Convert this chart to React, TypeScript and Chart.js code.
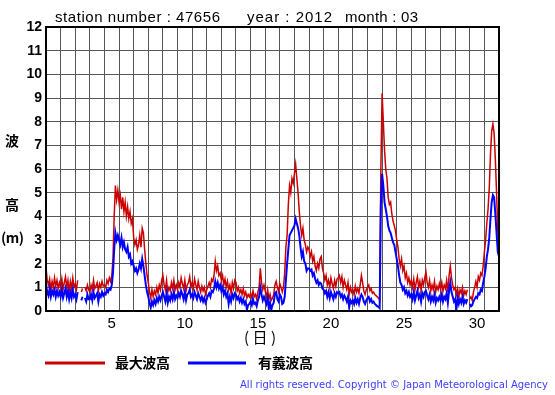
import React, { useEffect, useRef } from "react";
import { Chart, registerables } from "chart.js";

Chart.register(...registerables);

// hours between successive readings (values start 1 March 00:00)
const stepHours = 2;

// day tick labels on the x axis (each label is centred on its day column)
const dayTickLabels = ["5", "10", "15", "20", "25", "30"];

// wave height axis range (m)
const yMin = 0;
const yMax = 12;

const titleStation = "station number : 47656";
const titleYear = "year : 2012";
const titleMonth = "month : 03";
const seriesMaxName = "最大波高";
const seriesSigName = "有義波高";
const copyright = "All rights reserved. Copyright © Japan Meteorological Agency";

// 最大波高 (maximum wave height), one row per day, 12 readings per day
const maxWave: (number | null)[] = [
  1.85, 1.3, 1.1, 1.35, 0.9, 1.25, 1.0, 1.4, 1.05, 1.3, 0.95, 1.2,
  1.0, 1.35, 0.9, 1.2, 1.45, 1.0, 1.3, 0.85, 1.25, 0.95, 1.4, 1.0,
  1.15, 0.9, 1.3, null, null, 0.8, 0.95, null, 1.0, 0.85, 1.1, 0.9,
  0.8, 1.1, 0.9, 1.3, 0.95, 1.05, 1.2, 0.85, 1.15, 1.0, 1.25, 1.05,
  1.1, 1.0, 1.3, 1.15, 1.4, 1.25, 1.5, 2.2, 4.0, 5.3, 4.7, 5.1,
  4.6, 4.9, 4.3, 4.8, 4.2, 4.6, 4.0, 4.4, 3.9, 4.2, 3.7, 3.9,
  3.1, 2.8, 3.0, 2.6, 2.8, 3.2, 2.7, 3.5, 3.3, 2.6, 2.0, 1.5,
  1.2, 0.8, 0.55, 0.9, 0.6, 0.85, 0.7, 1.0, 0.75, 1.1, 0.9, 1.3,
  1.5, 1.1, 0.9, 1.3, 0.8, 1.0, 0.85, 1.2, 0.95, 1.3, 0.9, 1.1,
  0.9, 1.2, 1.0, 1.4, 1.15, 0.95, 1.3, 0.85, 1.1, 1.2, 1.45, 1.0,
  1.2, 0.95, 1.35, 1.1, 0.9, 1.25, 1.0, 0.8, 1.05, 0.85, 1.0, 0.7,
  0.9, 1.05, 1.2, 1.0, 1.35, 1.25, 1.5, 2.1, 1.7, 1.9, 1.5, 1.6,
  1.3, 1.5, 1.1, 1.35, 1.0, 1.25, 0.9, 1.1, 0.75, 1.2, 0.95, 1.3,
  1.2, 0.85, 1.0, 0.75, 0.9, 0.7, 0.95, 0.65, 0.8, 0.55, 0.7, 0.6,
  0.75, 0.55, 0.85, 0.6, 0.7, 0.5, 0.8, 1.0, 1.8, 1.2, 0.9, 1.1,
  0.85, 0.6, 0.9, 0.5, 0.7, 0.45, 0.55, 0.7, 1.1, 1.25, 1.0, 0.8,
  1.15, 1.0, 0.8, 1.0, 1.6, 2.7, 3.2, 4.5, 5.3, 5.0, 5.6, 5.4,
  5.8, 6.2, 5.6, 5.0, 4.2, 3.6, 3.2, 3.5, 3.0, 2.8, 2.5, 2.7,
  2.6, 2.3, 2.5, 2.1, 2.3, 1.9, 1.7, 2.0, 1.8, 2.2, 2.3, 1.8,
  1.6, 1.3, 1.5, 1.1, 1.3, 1.0, 1.4, 1.15, 0.95, 1.3, 1.05, 1.35,
  1.4, 1.5, 1.2, 1.45, 1.0, 1.3, 1.1, 0.9, 1.2, 0.7, 1.0, 0.8,
  0.9, 0.7, 1.05, 0.8, 0.95, 0.75, 1.1, 1.5, 1.2, 0.85, 0.7, 0.9,
  1.0, 1.1, 0.85, 0.95, 0.75, 0.8, 0.7, 0.65, 0.6, 0.55, 0.45, 6.0,
  9.2, 8.0, 6.8, 6.0, 5.6, 4.8, 4.5, 4.6, 4.1, 3.8, 3.6, 3.4,
  3.0, 2.7, 2.2, 1.9, 2.2, 1.7, 1.9, 1.4, 1.6, 1.2, 1.4, 1.1,
  1.3, 1.0, 1.35, 0.9, 1.2, 1.45, 1.0, 1.25, 0.85, 1.3, 1.1, 1.4,
  1.65, 1.2, 1.0, 1.3, 0.85, 1.1, 0.9, 1.25, 0.8, 1.05, 0.9, 1.15,
  0.9, 1.2, 0.85, 1.1, 0.95, 1.3, 0.8, 1.5, 1.9, 1.4, 1.1, 0.9,
  1.0, 0.7, 0.95, 0.6, 0.9, 0.75, 1.0, 0.65, 0.85, 0.7, 0.9, null,
  0.5, 0.6, 0.45, 0.8, 1.0, 1.25, 1.0, 1.45, 1.3, 1.6, 1.5, 1.9,
  2.5, 3.0, 3.7, 4.3, 5.2, 6.6, 7.6, 7.9, 7.5, 6.4, 5.0, 3.4,
  2.5,
];

// 有義波高 (significant wave height), one row per day, 12 readings per day
const sigWave: (number | null)[] = [
  1.15, 0.8, 0.65, 0.95, 0.6, 0.85, 0.7, 0.9, 0.6, 0.85, 0.65, 0.8,
  0.6, 0.9, 0.55, 0.75, 0.95, 0.6, 0.85, 0.5, 0.8, 0.55, 0.9, 0.6,
  0.7, 0.5, 0.8, null, null, 0.45, 0.6, null, 0.55, 0.4, 0.7, 0.5,
  0.5, 0.7, 0.45, 0.8, 0.55, 0.65, 0.75, 0.4, 0.7, 0.6, 0.8, 0.65,
  0.75, 0.7, 0.9, 0.8, 0.95, 0.9, 1.1, 1.6, 2.6, 3.3, 3.0, 3.2,
  3.0, 2.8, 3.1, 2.7, 2.9, 2.6, 2.5, 2.7, 2.3, 2.4, 2.0, 2.1,
  1.9, 1.7, 1.8, 1.6, 1.75, 2.0, 1.8, 2.2, 1.9, 1.5, 1.1, 0.8,
  0.6, 0.35, 0.15, 0.4, 0.25, 0.45, 0.3, 0.55, 0.4, 0.6, 0.45, 0.65,
  0.8, 0.6, 0.4, 0.75, 0.35, 0.6, 0.45, 0.7, 0.5, 0.8, 0.5, 0.65,
  0.55, 0.75, 0.6, 0.85, 0.7, 0.5, 0.8, 0.45, 0.7, 0.75, 0.9, 0.6,
  0.7, 0.55, 0.8, 0.65, 0.5, 0.75, 0.6, 0.45, 0.6, 0.4, 0.55, 0.35,
  0.5, 0.65, 0.75, 0.6, 0.85, 0.8, 0.95, 1.25, 1.0, 1.2, 0.95, 1.1,
  0.85, 1.0, 0.7, 0.85, 0.6, 0.75, 0.3, 0.6, 0.4, 0.7, 0.55, 0.75,
  0.7, 0.5, 0.6, 0.4, 0.55, 0.35, 0.5, 0.3, 0.4, 0.05, 0.25, 0.3,
  0.4, 0.25, 0.5, 0.3, 0.35, 0.2, 0.45, 0.6, 1.0, 0.7, 0.45, 0.6,
  0.45, 0.3, 0.55, 0.1, 0.35, 0.05, 0.25, 0.35, 0.75, 0.8, 0.5, 0.4,
  0.7, 0.6, 0.3, 0.35, 0.6, 1.3, 2.0, 2.6, 3.2, 3.3, 3.4, 3.5,
  3.6, 3.9, 3.7, 3.5, 3.2, 2.7, 2.3, 2.5, 2.1, 2.0, 1.7, 1.8,
  1.8, 1.7, 1.75, 1.5, 1.6, 1.35, 1.2, 1.3, 1.1, 1.2, 1.15, 0.95,
  0.9, 0.75, 0.85, 0.6, 0.8, 0.55, 0.8, 0.65, 0.5, 0.75, 0.6, 0.8,
  0.75, 0.8, 0.6, 0.7, 0.5, 0.65, 0.55, 0.4, 0.6, 0.15, 0.45, 0.35,
  0.45, 0.3, 0.55, 0.35, 0.5, 0.3, 0.55, 0.7, 0.6, 0.4, 0.3, 0.45,
  0.55, 0.6, 0.4, 0.5, 0.35, 0.4, 0.3, 0.25, 0.2, 0.18, 0.12, 4.5,
  5.8, 5.3, 4.6, 4.3, 4.0, 3.6, 3.4, 3.3, 3.1, 2.9, 2.8, 2.5,
  2.2, 1.9, 1.5, 1.2, 1.1, 0.9, 1.0, 0.75, 0.85, 0.65, 0.8, 0.6,
  0.7, 0.5, 0.8, 0.45, 0.65, 0.85, 0.55, 0.7, 0.4, 0.75, 0.6, 0.8,
  0.85, 0.65, 0.5, 0.7, 0.4, 0.6, 0.45, 0.7, 0.35, 0.55, 0.45, 0.6,
  0.45, 0.7, 0.4, 0.6, 0.5, 0.75, 0.35, 0.85, 1.2, 0.8, 0.6, 0.4,
  0.5, 0.05, 0.55, 0.3, 0.5, 0.35, 0.6, 0.3, 0.45, 0.35, 0.5, null,
  0.3, 0.2, 0.25, 0.4, 0.5, 0.6, 0.55, 0.75, 0.7, 0.9, 0.85, 1.2,
  1.45, 1.8, 2.3, 2.6, 3.1, 3.9, 4.6, 4.9, 4.8, 4.1, 3.3, 2.5,
  2.3,
];

const RED = "#cc0000";
const BLUE = "#0000ff";
const GRID = "#555555";

function fitText(ctx: CanvasRenderingContext2D, text: string, x: number, y: number, width: number) {
  (ctx as any).letterSpacing = "0px";
  const w = ctx.measureText(text).width;
  const ls = (width - w) / Math.max(1, text.length - 1);
  (ctx as any).letterSpacing = ls + "px";
  ctx.fillText(text, x, y);
  (ctx as any).letterSpacing = "0px";
}

export default function App() {
  const ref = useRef<HTMLCanvasElement>(null);

  useEffect(() => {
    document.body.style.margin = "0";
    const canvas = ref.current!;
    const toPts = (arr: (number | null)[]) => arr.map((v, i) => ({ x: (i * stepHours) / 24, y: v }));
    const labelPos = new Map<number, string>();
    dayTickLabels.forEach((d) => labelPos.set(Number(d) - 0.5, d));
    const days = Math.round(((maxWave.length - 1) * stepHours) / 24);

    const decor = {
      id: "decor",
      beforeDraw(chart: any) {
        const ctx = chart.ctx as CanvasRenderingContext2D;
        ctx.save();
        ctx.fillStyle = "#fff";
        ctx.fillRect(0, 0, chart.width, chart.height);
        ctx.restore();
      },
      afterDraw(chart: any) {
        const ctx = chart.ctx as CanvasRenderingContext2D;
        const a = chart.chartArea;
        ctx.save();
        // frame
        ctx.strokeStyle = "#000";
        ctx.lineWidth = 2;
        ctx.strokeRect(a.left, a.top, a.right - a.left, a.bottom - a.top);

        // title
        ctx.fillStyle = "#000";
        ctx.textBaseline = "alphabetic";
        ctx.textAlign = "left";
        ctx.font = "15px 'Liberation Sans', Arial, sans-serif";
        fitText(ctx, titleStation, 55, 22, 165);
        fitText(ctx, titleYear, 247, 22, 85);
        fitText(ctx, titleMonth, 345, 22, 73);

        // y title
        ctx.font = "bold 14px 'Noto Sans CJK JP', sans-serif";
        ctx.textBaseline = "middle";
        ctx.textAlign = "center";
        ctx.fillText("波", 12, 141);
        ctx.fillText("高", 12, 205);
        ctx.textAlign = "left";
        fitText(ctx, "(m)", 1, 238, 23);

        // x title
        ctx.font = "15px 'Noto Sans CJK JP', sans-serif";
        ctx.textAlign = "left";
        fitText(ctx, "(日)", 244, 337, 32);

        // legend
        ctx.lineWidth = 3;
        ctx.strokeStyle = RED;
        ctx.beginPath();
        ctx.moveTo(45, 363);
        ctx.lineTo(105, 363);
        ctx.stroke();
        ctx.strokeStyle = BLUE;
        ctx.beginPath();
        ctx.moveTo(188, 363);
        ctx.lineTo(246, 363);
        ctx.stroke();
        ctx.fillStyle = "#000";
        ctx.font = "bold 14px 'Noto Sans CJK JP', sans-serif";
        ctx.textBaseline = "middle";
        fitText(ctx, seriesMaxName, 115, 363, 55);
        fitText(ctx, seriesSigName, 258, 363, 55);

        // copyright
        ctx.fillStyle = "#3c3cff";
        ctx.font = "10px 'DejaVu Sans', Verdana, sans-serif";
        ctx.textBaseline = "middle";
        fitText(ctx, copyright, 240, 385, 308);
        ctx.restore();
      },
    };

    const chart = new Chart(canvas, {
      type: "line",
      data: {
        datasets: [
          {
            label: seriesSigName,
            data: toPts(sigWave) as any,
            borderColor: BLUE,
            borderWidth: 2,
            pointRadius: 0,
            tension: 0,
            spanGaps: false,
          },
          {
            label: seriesMaxName,
            data: toPts(maxWave) as any,
            borderColor: RED,
            borderWidth: 1.5,
            pointRadius: 0,
            tension: 0,
            spanGaps: false,
          },
        ],
      },
      options: {
        animation: false,
        responsive: false,
        devicePixelRatio: 1,
        layout: { padding: { left: 0, top: 27, right: 56, bottom: 54 } },
        plugins: { legend: { display: false }, tooltip: { enabled: false }, title: { display: false } },
        scales: {
          x: {
            type: "linear",
            min: 0,
            max: days,
            afterBuildTicks: (scale: any) => {
              const t: any[] = [];
              for (let v = 0; v <= days; v += 0.5) t.push({ value: v });
              scale.ticks = t;
            },
            afterFit: (scale: any) => {
              scale.height = 30;
            },
            grid: {
              color: (c: any) => (c.tick && Number.isInteger(c.tick.value) ? GRID : "rgba(0,0,0,0)"),
              lineWidth: 1,
              drawTicks: false,
            },
            border: { display: false },
            ticks: {
              autoSkip: false,
              maxRotation: 0,
              minRotation: 0,
              padding: 4,
              color: "#000",
              font: { family: "'Liberation Sans', Arial, sans-serif", size: 15 },
              callback: (v: any) => labelPos.get(Number(v)) ?? "",
            },
          },
          y: {
            min: yMin,
            max: yMax,
            afterFit: (scale: any) => {
              scale.width = 46;
            },
            grid: { color: GRID, lineWidth: 1, drawTicks: false },
            border: { display: false },
            ticks: {
              stepSize: 1,
              padding: 4,
              color: "#000",
              font: { family: "'Liberation Sans', Arial, sans-serif", size: 14, weight: "bold" },
            },
          },
        },
      },
      plugins: [decor],
    });
    return () => chart.destroy();
  }, []);

  return <canvas ref={ref} width={555} height={395} style={{ display: "block", width: 555, height: 395 }} />;
}
